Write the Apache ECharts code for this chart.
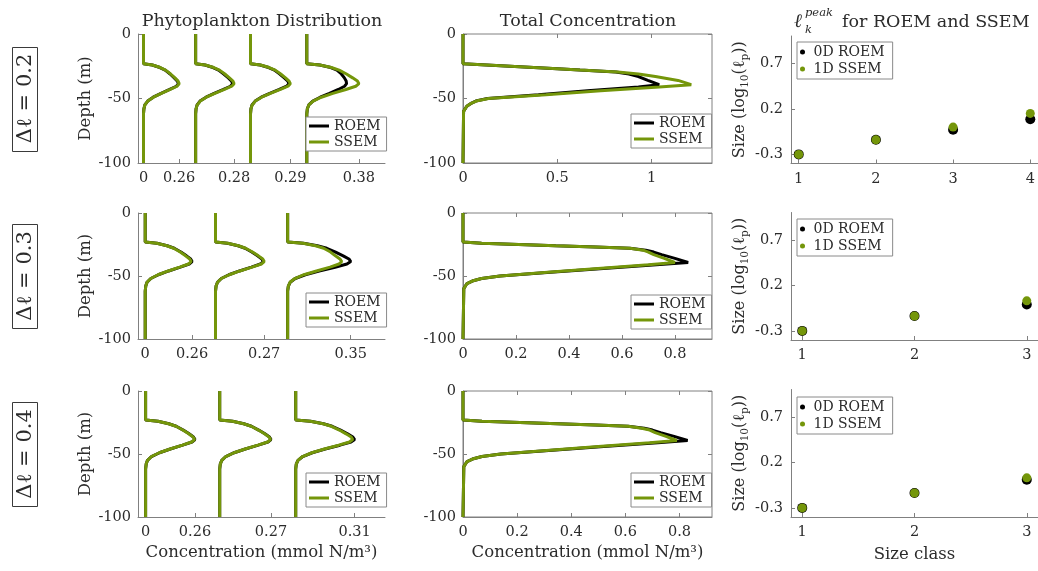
<!DOCTYPE html>
<html>
<head>
<meta charset="utf-8">
<title>Phytoplankton profiles: ROEM vs SSEM</title>
<script src="https://cdn.jsdelivr.net/npm/echarts@6.0.0/dist/echarts.min.js"></script>
<style>
  html, body { margin: 0; padding: 0; background: #ffffff; }
  #chart { width: 1038px; height: 571px; }
</style>
</head>
<body>
<div id="chart"></div>
<script>
// ---------------- data ----------------
const rowLabels = ['Δℓ = 0.2', 'Δℓ = 0.3', 'Δℓ = 0.4'];
const modelNames = ['ROEM', 'SSEM'];
const scatterNames = ['0D ROEM', '1D SSEM'];

// depth levels (m) of the phytoplankton profiles
const DEPTH = [0, -23, -24, -26, -28, -31, -34, -36.5, -38.5, -40.5, -43, -46, -49, -52, -55, -58, -62, -100];
// depth levels (m) of the total-concentration profiles
const TOTAL_DEPTH = [0, -23, -24, -25, -26, -27, -28, -29.5, -31, -33, -36, -39.3, -41, -44, -47, -50, -52, -54, -56, -60, -100];

// phytoplankton concentration per size class (mmol N/m^3), one array per class
const phytoRoem02 = [
  [0, 0, 0.064, 0.12, 0.158, 0.194, 0.224, 0.247, 0.255, 0.24, 0.191, 0.128, 0.071, 0.031, 0.010, 0.003, 0, 0],
  [0, 0, 0.068, 0.127, 0.167, 0.205, 0.238, 0.262, 0.27, 0.254, 0.203, 0.135, 0.076, 0.032, 0.011, 0.003, 0, 0],
  [0, 0, 0.07, 0.132, 0.174, 0.213, 0.246, 0.272, 0.28, 0.263, 0.21, 0.14, 0.078, 0.034, 0.011, 0.003, 0, 0],
  [0, 0, 0.095, 0.175, 0.22, 0.252, 0.274, 0.287, 0.29, 0.275, 0.23, 0.165, 0.098, 0.044, 0.015, 0.004, 0, 0]
];
const phytoSsem02 = [
  [0, 0, 0.065, 0.122, 0.161, 0.198, 0.229, 0.252, 0.26, 0.244, 0.195, 0.13, 0.073, 0.031, 0.010, 0.003, 0, 0],
  [0, 0, 0.07, 0.132, 0.174, 0.213, 0.246, 0.272, 0.28, 0.263, 0.21, 0.14, 0.078, 0.034, 0.011, 0.003, 0, 0],
  [0, 0, 0.073, 0.136, 0.18, 0.22, 0.255, 0.281, 0.29, 0.273, 0.218, 0.145, 0.081, 0.035, 0.012, 0.003, 0, 0],
  [0, 0, 0.095, 0.179, 0.236, 0.289, 0.334, 0.369, 0.38, 0.357, 0.285, 0.19, 0.106, 0.046, 0.015, 0.004, 0, 0]
];
const phytoRoem03 = [
  [0, 0, 0.065, 0.122, 0.161, 0.198, 0.229, 0.252, 0.26, 0.244, 0.195, 0.13, 0.073, 0.031, 0.010, 0.003, 0, 0],
  [0, 0, 0.066, 0.125, 0.164, 0.201, 0.233, 0.257, 0.265, 0.249, 0.199, 0.133, 0.074, 0.032, 0.011, 0.003, 0, 0],
  [0, 0, 0.088, 0.165, 0.217, 0.266, 0.308, 0.34, 0.35, 0.329, 0.263, 0.175, 0.098, 0.042, 0.014, 0.004, 0, 0]
];
const phytoSsem03 = [
  [0, 0, 0.064, 0.12, 0.158, 0.194, 0.224, 0.247, 0.255, 0.24, 0.191, 0.128, 0.071, 0.031, 0.010, 0.003, 0, 0],
  [0, 0, 0.068, 0.127, 0.167, 0.205, 0.238, 0.262, 0.27, 0.254, 0.203, 0.135, 0.076, 0.032, 0.011, 0.003, 0, 0],
  [0, 0, 0.085, 0.155, 0.2, 0.238, 0.265, 0.29, 0.30, 0.285, 0.235, 0.16, 0.09, 0.04, 0.013, 0.004, 0, 0]
];
const phytoRoem04 = [
  [0, 0, 0.065, 0.122, 0.161, 0.198, 0.229, 0.252, 0.26, 0.244, 0.195, 0.13, 0.073, 0.031, 0.010, 0.003, 0, 0],
  [0, 0, 0.068, 0.127, 0.167, 0.205, 0.238, 0.262, 0.27, 0.254, 0.203, 0.135, 0.076, 0.032, 0.011, 0.003, 0, 0],
  [0, 0, 0.078, 0.146, 0.192, 0.236, 0.273, 0.301, 0.31, 0.291, 0.233, 0.155, 0.087, 0.037, 0.012, 0.003, 0, 0]
];
const phytoSsem04 = [
  [0, 0, 0.065, 0.121, 0.16, 0.196, 0.227, 0.25, 0.258, 0.242, 0.194, 0.129, 0.072, 0.031, 0.010, 0.003, 0, 0],
  [0, 0, 0.067, 0.126, 0.166, 0.204, 0.236, 0.26, 0.268, 0.252, 0.201, 0.134, 0.075, 0.032, 0.011, 0.003, 0, 0],
  [0, 0, 0.077, 0.144, 0.188, 0.23, 0.265, 0.292, 0.30, 0.283, 0.226, 0.151, 0.085, 0.036, 0.012, 0.003, 0, 0]
];

// total concentration (mmol N/m^3) along TOTAL_DEPTH
const totalRoem02 = [0, 0, 0.125, 0.25, 0.375, 0.5, 0.62, 0.81, 0.88, 0.93, 0.98, 1.04, 0.93, 0.66, 0.40, 0.13, 0.068, 0.04, 0.02, 0.003, 0];
const totalSsem02 = [0, 0, 0.125, 0.25, 0.375, 0.5, 0.62, 0.82, 0.93, 1.02, 1.14, 1.21, 1.04, 0.73, 0.44, 0.135, 0.07, 0.04, 0.02, 0.003, 0];
const totalRoem03 = [0, 0, 0.07, 0.21, 0.35, 0.5, 0.63, 0.69, 0.72, 0.75, 0.80, 0.85, 0.73, 0.53, 0.33, 0.14, 0.07, 0.035, 0.015, 0.003, 0];
const totalSsem03 = [0, 0, 0.07, 0.21, 0.35, 0.5, 0.63, 0.68, 0.70, 0.72, 0.76, 0.80, 0.70, 0.51, 0.32, 0.14, 0.07, 0.035, 0.015, 0.003, 0];
const totalRoem04 = [0, 0, 0.07, 0.21, 0.35, 0.49, 0.61, 0.67, 0.70, 0.73, 0.78, 0.83, 0.72, 0.52, 0.33, 0.14, 0.07, 0.035, 0.015, 0.003, 0];
const totalSsem04 = [0, 0, 0.07, 0.21, 0.35, 0.49, 0.61, 0.66, 0.69, 0.71, 0.75, 0.79, 0.69, 0.50, 0.32, 0.14, 0.07, 0.035, 0.015, 0.003, 0];

// peak size log10(l_p) per size class
const sizeClasses02 = [1, 2, 3, 4];
const sizeClasses03 = [1, 2, 3];
const sizeClasses04 = [1, 2, 3];
const peakRoem02 = [-0.30, -0.14, -0.03, 0.085];
const peakSsem02 = [-0.30, -0.14, 0.00, 0.15];
const peakRoem03 = [-0.30, -0.136, -0.01];
const peakSsem03 = [-0.30, -0.136, 0.03];
const peakRoem04 = [-0.30, -0.136, 0.01];
const peakSsem04 = [-0.30, -0.136, 0.03];

const depthTicks = [-100, -50, 0];
const sizeTicks = [-0.3, 0.2, 0.7];

// ---------------- styling / layout ----------------
const FONT = '"DejaVu Serif", "Liberation Serif", serif';
const TXT = '#2b2b2b';
const AXC = '#808080';
const GREEN = '#74960a';
const BLACK = '#000000';

const ROWS = [
  { label: rowLabels[0], phytoR: phytoRoem02, phytoS: phytoSsem02, totR: totalRoem02, totS: totalSsem02, classes: sizeClasses02, peakR: peakRoem02, peakS: peakSsem02 },
  { label: rowLabels[1], phytoR: phytoRoem03, phytoS: phytoSsem03, totR: totalRoem03, totS: totalSsem03, classes: sizeClasses03, peakR: peakRoem03, peakS: peakSsem03 },
  { label: rowLabels[2], phytoR: phytoRoem04, phytoS: phytoSsem04, totR: totalRoem04, totS: totalSsem04, classes: sizeClasses04, peakR: peakRoem04, peakS: peakSsem04 }
];
const LAYOUT = [
  { top: 34, bottom: 163, sTop: 36, sBottom: 163.5, phytoMax: 1.76, gap: 0.12, totMax: 1.32, totStep: 0.5, legL: [306, 117], legM: [631, 114], legS: [797, 42] },
  { top: 213, bottom: 339, sTop: 212.5, sBottom: 340, phytoMax: 1.33, gap: 0.13, totMax: 0.94, totStep: 0.2, legL: [306, 293], legM: [631, 295], legS: [797, 219] },
  { top: 391, bottom: 517, sTop: 389.5, sBottom: 517, phytoMax: 1.26, gap: 0.13, totMax: 0.92, totStep: 0.2, legL: [306, 473], legM: [631, 473], legS: [797, 397] }
];

const nameStyle = { fontFamily: FONT, fontSize: 16.5, color: TXT };
const sizeNameStyle = {
  rich: {
    t: { fontFamily: FONT, fontSize: 16, color: TXT, lineHeight: 22 },
    s: { fontFamily: FONT, fontSize: 10.5, color: TXT, lineHeight: 10, verticalAlign: 'bottom' }
  }
};

function valueAxis(gridIndex, min, max, ticks, opts) {
  opts = opts || {};
  const ax = {
    type: 'value', gridIndex: gridIndex, min: min, max: max,
    axisLine: { show: opts.line !== false, onZero: false, lineStyle: { color: AXC, width: 1 } },
    axisTick: { show: true, inside: true, length: 4, customValues: ticks, lineStyle: { color: AXC, width: 1 } },
    axisLabel: { show: opts.labels !== false, customValues: ticks, color: TXT, fontFamily: FONT, fontSize: 14.5, margin: opts.margin || 7 },
    splitLine: { show: false }
  };
  if (opts.position) ax.position = opts.position;
  if (opts.formatter) ax.axisLabel.formatter = opts.formatter;
  if (opts.name) {
    ax.name = opts.name; ax.nameLocation = 'middle'; ax.nameGap = opts.nameGap;
    ax.nameTextStyle = opts.nameTextStyle || nameStyle;
  }
  return ax;
}

function lineSeries(name, color, xi, yi, data) {
  return {
    type: 'line', name: name, xAxisIndex: xi, yAxisIndex: yi, data: data,
    showSymbol: false, symbol: 'none', color: color,
    lineStyle: { color: color, width: 3 }, emphasis: { disabled: true }, silent: true
  };
}

const lineLegend = {
  orient: 'vertical', icon: 'rect', itemWidth: 20, itemHeight: 3, itemGap: 2,
  padding: [2, 6, 2, 3], borderColor: '#8a8a8a', borderWidth: 1, backgroundColor: '#ffffff',
  selectedMode: false, textStyle: { fontFamily: FONT, fontSize: 14, color: TXT }
};
const dotLegend = {
  orient: 'vertical', icon: 'circle', itemWidth: 12, itemHeight: 5, itemGap: 3,
  padding: [3, 8, 3, 3], borderColor: '#8a8a8a', borderWidth: 1, backgroundColor: '#ffffff',
  selectedMode: false, textStyle: { fontFamily: FONT, fontSize: 14, color: TXT }
};

const grids = [], xAxes = [], yAxes = [], series = [], legends = [], graphics = [];

ROWS.forEach(function (row, r) {
  const L = LAYOUT[r];
  const h = L.bottom - L.top;
  const last = r === ROWS.length - 1;

  // ---- phytoplankton profiles, one per size class, shifted side by side ----
  const gL = grids.push({ left: 138, top: L.top, width: 247, height: h }) - 1;
  const peaks = row.phytoR.map(function (p, k) { return Math.max.apply(null, p.concat(row.phytoS[k])); });
  const offsets = [];
  let acc = 0;
  peaks.forEach(function (pk) { offsets.push(acc); acc += pk + L.gap; });
  const tickPos = [0].concat(peaks.map(function (pk, k) { return offsets[k] + pk; }));
  const tickTxt = ['0'].concat(peaks.map(function (pk) { return pk.toFixed(2); }));
  const xL = xAxes.push(valueAxis(gL, -0.04, L.phytoMax, tickPos, {
    margin: 8,
    formatter: function (v) {
      let best = 0;
      tickPos.forEach(function (p, i) { if (Math.abs(p - v) < Math.abs(tickPos[best] - v)) best = i; });
      return tickTxt[best];
    },
    name: last ? 'Concentration (mmol N/m³)' : null, nameGap: 27
  })) - 1;
  const yL = yAxes.push(valueAxis(gL, -100, 0, depthTicks, { name: 'Depth (m)', nameGap: 44 })) - 1;
  row.phytoR.forEach(function (prof, k) {
    series.push(lineSeries(modelNames[0], BLACK, xL, yL, DEPTH.map(function (d, j) { return [offsets[k] + prof[j], d]; })));
  });
  row.phytoS.forEach(function (prof, k) {
    series.push(lineSeries(modelNames[1], GREEN, xL, yL, DEPTH.map(function (d, j) { return [offsets[k] + prof[j], d]; })));
  });
  legends.push(Object.assign({}, lineLegend, { left: L.legL[0], top: L.legL[1], data: modelNames }));

  // ---- total concentration, boxed axes ----
  const gM = grids.push({ left: 463, top: L.top, width: 249, height: h, show: true, borderColor: AXC, borderWidth: 1 }) - 1;
  const totTicks = [];
  for (let i = 0; i * L.totStep <= L.totMax + 1e-9; i++) totTicks.push(+(i * L.totStep).toFixed(2));
  const xM = xAxes.push(valueAxis(gM, 0, L.totMax, totTicks, {
    margin: 8, formatter: function (v) { return String(+v.toFixed(2)); },
    name: last ? 'Concentration (mmol N/m³)' : null, nameGap: 27
  })) - 1;
  const yM = yAxes.push(valueAxis(gM, -100, 0, depthTicks)) - 1;
  xAxes.push(valueAxis(gM, 0, L.totMax, totTicks, { position: 'top', line: false, labels: false }));
  yAxes.push(valueAxis(gM, -100, 0, depthTicks, { position: 'right', line: false, labels: false }));
  series.push(lineSeries(modelNames[0], BLACK, xM, yM, TOTAL_DEPTH.map(function (d, j) { return [row.totR[j], d]; })));
  series.push(lineSeries(modelNames[1], GREEN, xM, yM, TOTAL_DEPTH.map(function (d, j) { return [row.totS[j], d]; })));
  legends.push(Object.assign({}, lineLegend, { left: L.legM[0], top: L.legM[1], data: modelNames }));

  // ---- peak size per size class ----
  const gS = grids.push({ left: 791, top: L.sTop, width: 249, height: L.sBottom - L.sTop }) - 1;
  const n = row.classes.length;
  const xS = xAxes.push(valueAxis(gS, 0.9, n + 0.1, row.classes, {
    margin: 8, formatter: function (v) { return String(Math.round(v)); },
    name: last ? 'Size class' : null, nameGap: 29
  })) - 1;
  const yS = yAxes.push(valueAxis(gS, -0.4, 1.0, sizeTicks, {
    margin: 8, formatter: function (v) { return v.toFixed(1); },
    name: '{t|Size (log}{s|10}{t|(ℓ}{s|p}{t|))}', nameGap: 36, nameTextStyle: sizeNameStyle
  })) - 1;
  series.push({
    type: 'scatter', name: scatterNames[0], xAxisIndex: xS, yAxisIndex: yS,
    data: row.classes.map(function (c, i) { return [c, row.peakR[i]]; }),
    symbolSize: 10, itemStyle: { color: BLACK, opacity: 1 }, emphasis: { disabled: true }, silent: true
  });
  series.push({
    type: 'scatter', name: scatterNames[1], xAxisIndex: xS, yAxisIndex: yS,
    data: row.classes.map(function (c, i) { return [c, row.peakS[i]]; }),
    symbolSize: 9, itemStyle: { color: GREEN, opacity: 1 }, emphasis: { disabled: true }, silent: true
  });
  legends.push(Object.assign({}, dotLegend, { left: L.legS[0], top: L.legS[1], data: scatterNames }));

  // ---- boxed row label ----
  const cy = (L.top + L.bottom) / 2;
  graphics.push({ type: 'rect', shape: { x: 12.5, y: Math.round(cy - 52) + 0.5, width: 25, height: 104 },
    style: { fill: '#ffffff', stroke: '#3a3a3a', lineWidth: 1 }, silent: true });
  graphics.push({ type: 'text', x: 25.5, y: cy, rotation: Math.PI / 2, silent: true,
    style: { text: row.label, font: '21px ' + FONT, fill: TXT, align: 'center', verticalAlign: 'middle', textAlign: 'center', textVerticalAlign: 'middle' } });
});

// column titles
function textEl(x, y, text, font, align) {
  return { type: 'text', x: x, y: y, silent: true,
    style: { text: text, font: font, fill: TXT, align: align || 'center', verticalAlign: 'middle', textAlign: align || 'center', textVerticalAlign: 'middle' } };
}
graphics.push(textEl(262, 21, 'Phytoplankton Distribution', '17.5px ' + FONT));
graphics.push(textEl(588, 21, 'Total Concentration', '17.5px ' + FONT));
graphics.push(textEl(794, 22, 'ℓ', 'italic 19px ' + FONT, 'left'));
graphics.push(textEl(805, 13, 'peak', 'italic 11.5px ' + FONT, 'left'));
graphics.push(textEl(805, 30, 'k', 'italic 11.5px ' + FONT, 'left'));
graphics.push(textEl(842, 22, 'for ROEM and SSEM', '17.5px ' + FONT, 'left'));

const chart = echarts.init(document.getElementById('chart'), null, { renderer: 'canvas' });
chart.setOption({
  animation: false,
  backgroundColor: '#ffffff',
  grid: grids,
  xAxis: xAxes,
  yAxis: yAxes,
  legend: legends,
  series: series,
  graphic: graphics
});
</script>
</body>
</html>
